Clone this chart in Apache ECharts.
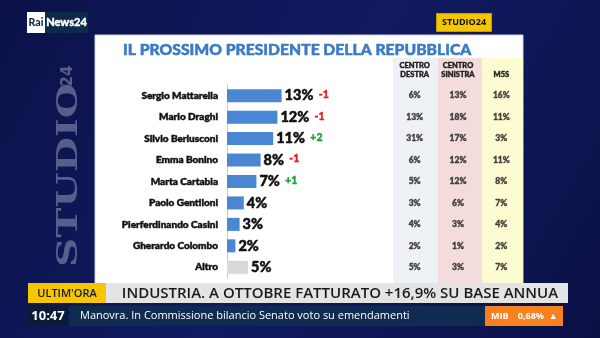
<!DOCTYPE html>
<html><head><meta charset="utf-8">
<script src="https://cdn.jsdelivr.net/npm/echarts@6.0.0/dist/echarts.min.js"></script>
<style>html,body{margin:0;padding:0;background:#0d1456}#c{width:600px;height:338px}</style>
</head><body><div id="c"></div><script>
const categories = ['Sergio Mattarella','Mario Draghi','Silvio Berlusconi','Emma Bonino','Marta Cartabia','Paolo Gentiloni','Pierferdinando Casini','Gherardo Colombo','Altro'];
const values = [13,12,11,8,7,4,3,2,5];
const deltas = [-1,-1,2,-1,1,null,null,null,null];
const tableHeaders = ['CENTRO\nDESTRA','CENTRO\nSINISTRA','M5S'];
const centroDestra = [6,13,31,6,5,3,4,2,5];
const centroSinistra = [13,18,17,12,12,6,3,1,3];
const m5s = [16,11,3,11,8,7,4,2,7];
const titleText = 'IL PROSSIMO PRESIDENTE DELLA REPUBBLICA';

const tableData = [];
[centroDestra, centroSinistra, m5s].forEach((col, ci) => col.forEach((v, ri) => tableData.push([ci, ri, v])));

const F = 'Lato, "Open Sans", sans-serif';
const chart = echarts.init(document.getElementById('c'), null, {renderer:'canvas'});
chart.setOption({
  animation:false,
  backgroundColor:{type:'linear',x:0,y:0,x2:1,y2:1,colorStops:[{offset:0,color:'#0b1148'},{offset:0.5,color:'#121b62'},{offset:1,color:'#0a1045'}]},
  title:{text:titleText,left:118,top:37,textStyle:{fontFamily:F,fontSize:15.7,fontWeight:900,color:'#3b7bc6',textBorderColor:'#3b7bc6',textBorderWidth:0.5}},
  graphic:[
    {type:'rect',z:-5,shape:{x:95,y:35,width:428,height:250},style:{fill:'#ffffff',stroke:'#d0d0d0',lineWidth:1}},
    {type:'rect',z:-4,shape:{x:393,y:58,width:45,height:226},style:{fill:'#eef2f6'}},
    {type:'rect',z:-4,shape:{x:438,y:58,width:44,height:226},style:{fill:'#f3dcdb'}},
    {type:'rect',z:-4,shape:{x:482,y:58,width:41,height:226},style:{fill:'#fdfbd2'}},
    {type:'text',z:-5,x:70,y:175,rotation:Math.PI/2,scaleX:1.5,style:{text:'STUDIO',font:'bold 27px "DejaVu Serif"',fill:'rgba(150,155,185,0.55)',align:'center',verticalAlign:'middle'}},
    {type:'text',z:-5,x:68,y:76,rotation:Math.PI/2,style:{text:'24',font:'bold 15px "DejaVu Sans"',fill:'rgba(150,155,185,0.55)',align:'center',verticalAlign:'middle'}},
    {type:'rect',z:10,shape:{x:27,y:12,width:18,height:21},style:{fill:'#ffffff'}},
    {type:'rect',z:10,shape:{x:45,y:12,width:43,height:21},style:{fill:'#0e2a4a'}},
    {type:'text',z:11,x:36,y:22.5,style:{text:'Rai',font:'900 10.5px Lato',fill:'#0e2a4a',align:'center',verticalAlign:'middle'}},
    {type:'text',z:11,x:66.5,y:22.5,style:{text:'News24',font:'900 11px Lato',fill:'#ffffff',stroke:'#ffffff',lineWidth:0.4,align:'center',verticalAlign:'middle'}},
    {type:'rect',z:10,shape:{x:436,y:13,width:56,height:19},style:{fill:'#f6c700',stroke:'#222',lineWidth:0.5}},
    {type:'text',z:11,x:464,y:22.5,style:{text:'STUDIO24',font:'bold 9px "Open Sans"',fill:'#111',align:'center',verticalAlign:'middle'}},
    {type:'rect',z:10,shape:{x:28,y:283,width:78,height:20},style:{fill:'#f6c700'}},
    {type:'text',z:11,x:67,y:293.5,style:{text:"ULTIM'ORA",font:'600 11px "Open Sans"',fill:'#1a1a1a',align:'center',verticalAlign:'middle'}},
    {type:'rect',z:10,shape:{x:106,y:283,width:462,height:20},style:{fill:'#e4e4e4'}},
    {type:'text',z:11,x:340,y:293.5,style:{text:'INDUSTRIA. A OTTOBRE FATTURATO +16,9% SU BASE ANNUA',font:'600 15px "Open Sans"',fill:'#1a1a1a',align:'center',verticalAlign:'middle'}},
    {type:'rect',z:10,shape:{x:28,y:306,width:40,height:20},style:{fill:'#0a1a38'}},
    {type:'text',z:11,x:48,y:316,style:{text:'10:47',font:'bold 13px "Open Sans"',fill:'#ffffff',align:'center',verticalAlign:'middle'}},
    {type:'rect',z:10,shape:{x:69,y:306,width:416,height:20},style:{fill:'#0f2b50'}},
    {type:'text',z:11,x:80,y:316,style:{text:'Manovra. In Commissione bilancio Senato voto su emendamenti',font:'11px "Open Sans"',fill:'#ffffff',align:'left',verticalAlign:'middle'}},
    {type:'rect',z:10,shape:{x:485,y:306,width:78,height:20},style:{fill:'#f5821f'}},
    {type:'text',z:11,x:491,y:316,style:{text:'MIB    0,68%  \u25B2',font:'bold 9px "Open Sans"',fill:'#ffffff',align:'left',verticalAlign:'middle'}}
  ],
  grid:[
    {left:227,top:85,width:126,height:193},
    {left:393,top:85,width:130,height:193}
  ],
  xAxis:[
    {gridIndex:0,type:'value',min:0,max:30,show:false},
    {gridIndex:1,type:'category',data:tableHeaders,position:'top',axisLine:{show:false},axisTick:{show:false},
     axisLabel:{fontFamily:F,fontSize:7.5,fontWeight:900,color:'#222',textBorderColor:'#222',textBorderWidth:0.4,lineHeight:9,margin:6,interval:0}}
  ],
  yAxis:[
    {gridIndex:0,type:'category',inverse:true,data:categories,
     axisLine:{lineStyle:{color:'#c8c8c8'}},axisTick:{length:4,lineStyle:{color:'#c8c8c8'}},
     axisLabel:{fontFamily:F,fontSize:10,fontWeight:900,color:'#111',textBorderColor:'#111',textBorderWidth:0.5,margin:9}},
    {gridIndex:1,type:'category',inverse:true,data:categories,show:false}
  ],
  series:[
    {type:'bar',xAxisIndex:0,yAxisIndex:0,barWidth:13,
     data:values.map((v,i)=>({value:v,itemStyle:{color:i===values.length-1?'#d9d9d9':'#4a86d2'}})),
     label:{show:true,position:'right',distance:3,
       formatter:p=>{const d=deltas[p.dataIndex];let s='{v|'+p.value+'%}';if(d!=null){s+=' {'+(d>0?'g':'r')+'|'+(d>0?'+':'')+d+'}';}return s;},
       rich:{v:{fontFamily:F,fontSize:14.5,fontWeight:900,color:'#111',textBorderColor:'#111',textBorderWidth:0.5},
             r:{fontFamily:F,fontSize:10.5,fontWeight:900,color:'#e3201b',textBorderColor:'#e3201b',textBorderWidth:0.4,padding:[0,0,2,2]},
             g:{fontFamily:F,fontSize:10.5,fontWeight:900,color:'#23a03a',textBorderColor:'#23a03a',textBorderWidth:0.4,padding:[0,0,2,2]}}}},
    {type:'scatter',xAxisIndex:1,yAxisIndex:1,symbolSize:1,itemStyle:{color:'transparent'},data:tableData,
     label:{show:true,position:'inside',formatter:p=>p.value[2]+'%',fontFamily:F,fontSize:8.5,fontWeight:900,color:'#222',textBorderColor:'#222',textBorderWidth:0.4}}
  ]
});
</script></body></html>
